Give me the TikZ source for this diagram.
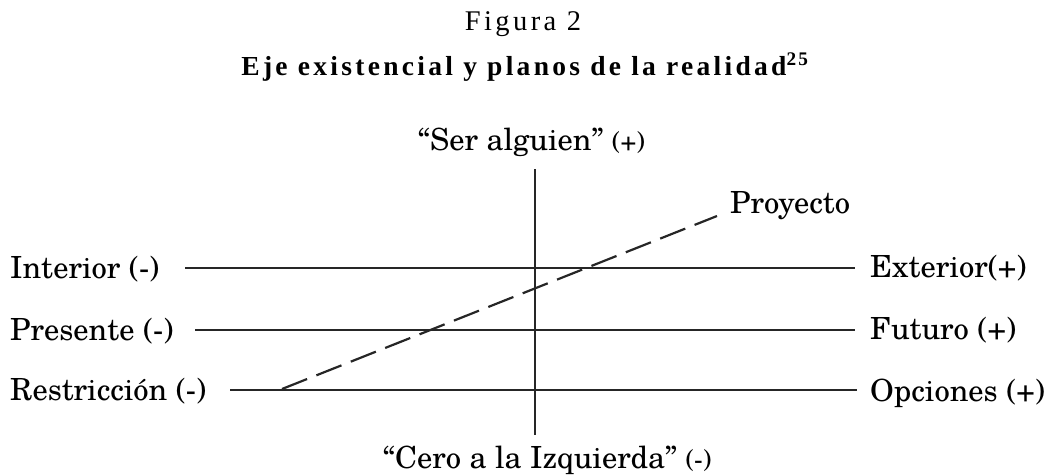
\documentclass[tikz,border=0pt]{standalone}
\usepackage{fontspec}
\setmainfont{Liberation Serif}
\newfontfamily\labfont{TeX Gyre Schola}
\newfontfamily\titfont[LetterSpace=12]{Liberation Serif}
\begin{document}
\begin{tikzpicture}[x=1pt,y=-1pt,
  lab/.style={font=\labfont\fontsize{30.5}{34}\selectfont, inner sep=0pt},
  sgn/.style={},
  axis/.style={line width=1.8pt, black!85},
  proj/.style={line width=2.2pt, black!85, dash pattern=on 27pt off 10pt}]
\useasboundingbox (0,0) rectangle (1050,475);
\node[font=\titfont\fontsize{28.5}{32}\selectfont, anchor=base, inner sep=0pt] (fig) at (523,30) {Figura 2};
\node[font=\titfont\bfseries\fontsize{27.5}{32}\selectfont, anchor=base, inner sep=0pt] (tit) at (525,75) {Eje existencial y planos de la realidad\textsuperscript{25}};
% left labels
\node[lab, anchor=base west] (int) at (10,278) {Interior (-)};
\node[lab, anchor=base west] (pre) at (10,340) {Presente (-)};
\node[lab, anchor=base west] (res) at (10,400) {Restricci\'on (-)};
% right labels
\node[lab, anchor=base west] (ext) at (870,277) {Exterior(+)};
\node[lab, anchor=base west] (fut) at (870,339) {Futuro (+)};
\node[lab, anchor=base west] (opc) at (870,401) {Opciones (+)};
\node[lab, anchor=base west] (pro) at (730,213) {Proyecto};
\node[lab, anchor=base west] (ser) at (418,150) {“Ser alguien” {\fontsize{26}{30}\selectfont(+)}};
\node[lab, anchor=base west] (cero) at (383,468) {“Cero a la Izquierda” {\fontsize{26}{30}\selectfont(-)}};
% lines
\coordinate (i1) at (185,268); \coordinate (i2) at (855,268);
\coordinate (p1) at (195,330); \coordinate (p2) at (855,330);
\coordinate (r1) at (230,390); \coordinate (r2) at (857,390);
\coordinate (v1) at (535,169); \coordinate (v2) at (535,435);
\coordinate (d1) at (282,389); \coordinate (d2) at (717,216);
\draw[axis] (i1) -- (i2);
\draw[axis] (p1) -- (p2);
\draw[axis] (r1) -- (r2);
\draw[axis] (v1) -- (v2);
\draw[proj] (d1) -- (d2);
\end{tikzpicture}
\end{document}
